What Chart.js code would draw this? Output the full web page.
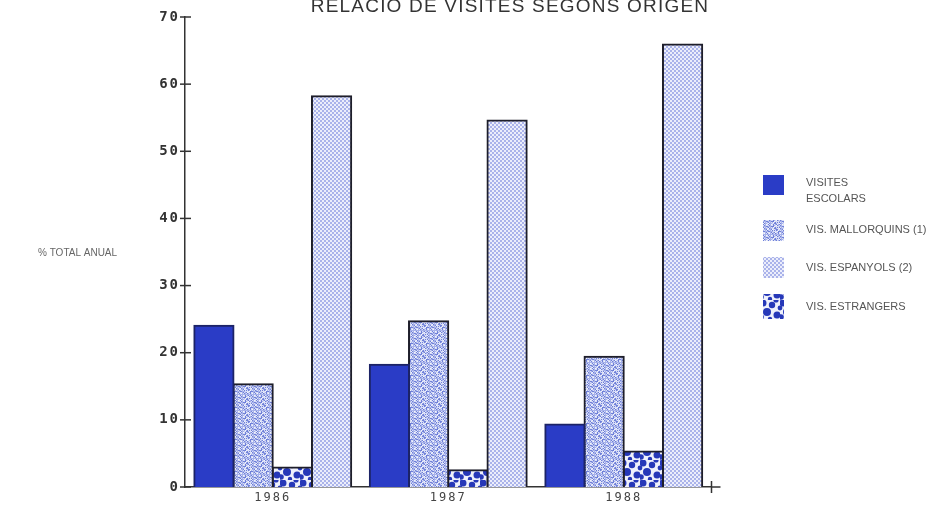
<!DOCTYPE html>
<html>
<head>
<meta charset="utf-8">
<script src="https://cdn.jsdelivr.net/npm/chart.js@4/dist/chart.umd.min.js"></script>
<style>
  html, body { margin: 0; padding: 0; background: #fff; }
  #wrap { width: 952px; height: 508px; }
</style>
</head>
<body>
<div id="wrap"><canvas id="myChart" width="952" height="508"></canvas></div>
<script>
var years = ['1986', '1987', '1988'];
var seriesLabels = [['VISITES', 'ESCOLARS'], ['VIS. MALLORQUINS (1)'], ['VIS. ESPANYOLS (2)'], ['VIS. ESTRANGERS']];
var escolars = [24, 18.2, 9.3];
var mallorquins = [15.3, 24.7, 19.4];
var estrangers = [2.9, 2.5, 5.3];
var espanyols = [58.2, 54.6, 65.9];
var yTicks = [0, 10, 20, 30, 40, 50, 60, 70];

// textures for the bars
function tile(w, h, paint) {
    var c = document.createElement('canvas');
    c.width = w; c.height = h;
    var g = c.getContext('2d');
    paint(g);
    return document.createElement('canvas').getContext('2d').createPattern(c, 'repeat');
}
var solidBlue = '#2a3cc6';
var speckle = tile(16, 16, function (g) {
    g.fillStyle = '#d9def6';
    g.fillRect(0, 0, 16, 16);
    for (var y = 0; y < 16; y++) {
        for (var x = 0; x < 16; x++) {
            var h = (x * 73 + y * 151 + x * y * 29) % 11;
            if (h < 3) { g.fillStyle = '#6f80d8'; g.fillRect(x, y, 1, 1); }
            else if (h < 6) { g.fillStyle = '#a7b2ea'; g.fillRect(x, y, 1, 1); }
            else if (h > 9) { g.fillStyle = '#f3f5fd'; g.fillRect(x, y, 1, 1); }
        }
    }
});
var checker = tile(4, 4, function (g) {
    g.fillStyle = '#eceefb';
    g.fillRect(0, 0, 4, 4);
    g.fillStyle = '#aab3ea';
    g.fillRect(0, 0, 2, 2);
    g.fillRect(2, 2, 2, 2);
});
var blobs = tile(20, 20, function (g) {
    g.fillStyle = '#eef0fb';
    g.fillRect(0, 0, 20, 20);
    g.fillStyle = '#2638b8';
    [[3, 3, 3.5], [12, 5, 3.2], [7, 12, 4], [17, 15, 3.5], [1, 17, 2.8], [16, 0, 2.6], [10, 19, 2.2], [20, 8, 2.4], [0, 8, 2.4]].forEach(function (b) {
        g.beginPath(); g.arc(b[0], b[1], b[2], 0, Math.PI * 2); g.fill();
    });
});

var fills = [solidBlue, speckle, checker, blobs];

var decor = {
    id: 'decor',
    beforeDraw: function (chart) {
        chart.ctx.letterSpacing = '2px';
    },
    beforeDatasetsDraw: function (chart) {
        chart.ctx.letterSpacing = '0px';
    },
    afterDraw: function (chart) {
        var ctx = chart.ctx;
        var ys = chart.scales.y;
        var left = chart.chartArea.left, bottom = chart.chartArea.bottom, right = chart.chartArea.right;
        ctx.save();
        ctx.letterSpacing = '0px';
        ctx.strokeStyle = '#333';
        ctx.lineWidth = 1.5;
        // crossing ticks on y axis
        yTicks.forEach(function (v) {
            var py = ys.getPixelForValue(v);
            ctx.beginPath(); ctx.moveTo(left - 5, py); ctx.lineTo(left + 6, py); ctx.stroke();
        });
        // x axis runs a little past the last tick
        ctx.beginPath(); ctx.moveTo(right, bottom); ctx.lineTo(right + 9, bottom); ctx.stroke();
        ctx.beginPath(); ctx.moveTo(right, bottom - 6); ctx.lineTo(right, bottom + 6); ctx.stroke();

        // title
        ctx.fillStyle = '#333';
        ctx.font = '19px "Liberation Sans", Arial, sans-serif';
        ctx.letterSpacing = '1.2px';
        ctx.textAlign = 'center';
        ctx.textBaseline = 'alphabetic';
        ctx.fillText('RELACIO DE VISITES SEGONS ORIGEN', 510, 12);
        ctx.letterSpacing = '0px';

        // y title
        ctx.fillStyle = '#666';
        ctx.font = '10px "Liberation Sans", Arial, sans-serif';
        ctx.textAlign = 'left';
        ctx.textBaseline = 'middle';
        ctx.fillText('% TOTAL ANUAL', 38, 253);

        // legend
        var rows = [
            { box: [763, 175, 21, 20], text: [183, 199] },
            { box: [763, 220, 21, 21], text: [230] },
            { box: [763, 257, 21, 21], text: [268] },
            { box: [763, 294, 21, 25], text: [307] }
        ];
        ctx.font = '11px "Liberation Sans", Arial, sans-serif';
        rows.forEach(function (r, i) {
            ctx.fillStyle = fills[i];
            ctx.fillRect(r.box[0], r.box[1], r.box[2], r.box[3]);
            ctx.fillStyle = '#555';
            seriesLabels[i].forEach(function (t, j) {
                ctx.fillText(t, 806, r.text[j]);
            });
        });
        ctx.restore();
    }
};

var ctx = document.getElementById('myChart');
var myChart = new Chart(ctx, {
    type: 'bar',
    data: {
        labels: years,
        datasets: [
            { label: seriesLabels[0].join(' '), data: escolars, backgroundColor: fills[0], borderColor: '#1c2366' },
            { label: seriesLabels[1][0], data: mallorquins, backgroundColor: fills[1], borderColor: '#1e1e2a' },
            { label: seriesLabels[3][0], data: estrangers, backgroundColor: fills[3], borderColor: '#1e1e2a' },
            { label: seriesLabels[2][0], data: espanyols, backgroundColor: fills[2], borderColor: '#1e1e2a' }
        ]
    },
    options: {
        responsive: false,
        animation: false,
        layout: { padding: { left: 0, right: 240.5, top: 17, bottom: 0 } },
        datasets: {
            bar: { borderWidth: 2, borderSkipped: 'bottom', inflateAmount: 1, categoryPercentage: 0.894, barPercentage: 1 }
        },
        plugins: {
            legend: { display: false },
            title: { display: false },
            tooltip: { enabled: false }
        },
        scales: {
            x: {
                grid: { display: false, drawTicks: false },
                border: { color: '#333', width: 1.5 },
                ticks: { color: '#444', padding: 4, font: { family: '"DejaVu Sans Mono", monospace', size: 12 } },
                afterFit: function (s) { s.height = 21; }
            },
            y: {
                min: 0,
                max: 70,
                afterBuildTicks: function (s) { s.ticks = yTicks.map(function (v) { return { value: v }; }); },
                grid: { display: false, drawTicks: false },
                border: { color: '#333', width: 1.5 },
                ticks: { color: '#333', padding: 5, font: { family: '"DejaVu Sans Mono", monospace', size: 14, weight: 'bold' } },
                afterFit: function (s) { s.width = 185; }
            }
        }
    },
    plugins: [decor]
});
</script>
</body>
</html>
